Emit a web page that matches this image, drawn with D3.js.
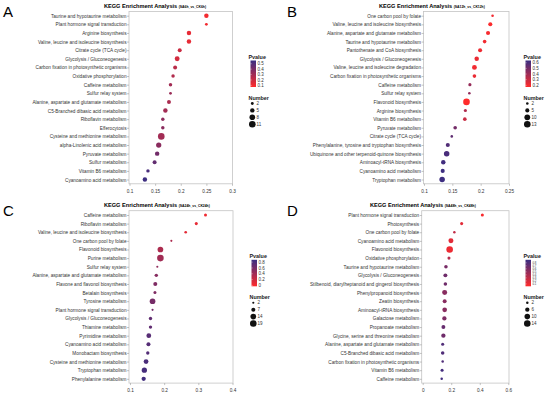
<!DOCTYPE html>
<html>
<head>
<meta charset="utf-8">
<script src="https://cdn.jsdelivr.net/npm/d3@7"></script>
<style>
  body { margin: 0; background: #fff; }
  svg { font-family: "Liberation Sans", Arial, sans-serif; }
</style>
</head>
<body>
<svg id="chart" width="550" height="394"></svg>
<script>
// Panel A: SA6h_vs_CK6h
const namesA = ["Taurine and hypotaurine metabolism", "Plant hormone signal transduction", "Arginine biosynthesis",
  "Valine, leucine and isoleucine biosynthesis", "Citrate cycle (TCA cycle)", "Glycolysis / Gluconeogenesis",
  "Carbon fixation in photosynthetic organisms", "Oxidative phosphorylation", "Caffeine metabolism", "Sulfur relay system",
  "Alanine, aspartate and glutamate metabolism", "C5-Branched dibasic acid metabolism", "Riboflavin metabolism",
  "Efferocytosis", "Cysteine and methionine metabolism", "alpha-Linolenic acid metabolism", "Pyruvate metabolism",
  "Sulfur metabolism", "Vitamin B6 metabolism", "Cyanoamino acid metabolism"];
const richA = [0.25, 0.25, 0.216, 0.216, 0.198, 0.193, 0.189, 0.185, 0.18, 0.18, 0.177, 0.17, 0.165, 0.165, 0.162, 0.157, 0.154, 0.149, 0.136, 0.13];
const numA = [5, 2, 5, 5, 4, 6, 4, 3, 3, 2, 4, 5, 3, 3, 11, 7, 5, 4, 3, 5];
const pA = [0.1, 0.1, 0.13, 0.13, 0.2, 0.18, 0.24, 0.26, 0.3, 0.32, 0.28, 0.3, 0.35, 0.36, 0.3, 0.36, 0.42, 0.46, 0.52, 0.55];

// Panel B: SA12h_vs_CK12h
const namesB = ["One carbon pool by folate", "Valine, leucine and isoleucine biosynthesis", "Alanine, aspartate and glutamate metabolism",
  "Taurine and hypotaurine metabolism", "Pantothenate and CoA biosynthesis", "Glycolysis / Gluconeogenesis",
  "Valine, leucine and isoleucine degradation", "Carbon fixation in photosynthetic organisms", "Caffeine metabolism",
  "Sulfur relay system", "Flavonoid biosynthesis", "Arginine biosynthesis", "Vitamin B6 metabolism", "Pyruvate metabolism",
  "Citrate cycle (TCA cycle)", "Phenylalanine, tyrosine and tryptophan biosynthesis", "Ubiquinone and other terpenoid-quinone biosynthesis",
  "Aminoacyl-tRNA biosynthesis", "Cyanoamino acid metabolism", "Tryptophan metabolism"];
const richB = [0.221, 0.217, 0.213, 0.207, 0.199, 0.193, 0.189, 0.189, 0.181, 0.18, 0.175, 0.173, 0.172, 0.155, 0.149, 0.142, 0.14, 0.134, 0.133, 0.132];
const numB = [2, 5, 5, 4, 5, 6, 7, 4, 3, 2, 13, 3, 4, 4, 2, 5, 9, 6, 5, 9];
const pB = [0.2, 0.18, 0.19, 0.2, 0.21, 0.22, 0.2, 0.22, 0.42, 0.43, 0.17, 0.36, 0.3, 0.5, 0.55, 0.58, 0.6, 0.62, 0.63, 0.63];

// Panel C: SA24h_vs_CK24h
const namesC = ["Caffeine metabolism", "Riboflavin metabolism", "Valine, leucine and isoleucine biosynthesis",
  "One carbon pool by folate", "Flavonoid biosynthesis", "Purine metabolism", "Sulfur relay system",
  "Alanine, aspartate and glutamate metabolism", "Flavone and flavonol biosynthesis", "Betalain biosynthesis",
  "Tyrosine metabolism", "Plant hormone signal transduction", "Glycolysis / Gluconeogenesis", "Thiamine metabolism",
  "Pyrimidine metabolism", "Cyanoamino acid metabolism", "Monobactam biosynthesis", "Cysteine and methionine metabolism",
  "Tryptophan metabolism", "Phenylalanine metabolism"];
const richC = [0.321, 0.294, 0.263, 0.221, 0.189, 0.189, 0.18, 0.177, 0.174, 0.173, 0.166, 0.166, 0.16, 0.16, 0.155, 0.154, 0.152, 0.147, 0.142, 0.14];
const numC = [4, 4, 3, 2, 14, 19, 2, 5, 7, 4, 14, 2, 5, 5, 10, 7, 5, 10, 12, 8];
const pC = [0.04, 0.08, 0.1, 0.35, 0.35, 0.4, 0.48, 0.52, 0.56, 0.56, 0.6, 0.62, 0.7, 0.7, 0.74, 0.75, 0.76, 0.8, 0.82, 0.84];

// Panel D: SA48h_vs_CK48h
const namesD = ["Plant hormone signal transduction", "Photosynthesis", "One carbon pool by folate", "Cyanoamino acid metabolism",
  "Flavonoid biosynthesis", "Oxidative phosphorylation", "Taurine and hypotaurine metabolism", "Glycolysis / Gluconeogenesis",
  "Stilbenoid, diarylheptanoid and gingerol biosynthesis", "Phenylpropanoid biosynthesis", "Zeatin biosynthesis",
  "Aminoacyl-tRNA biosynthesis", "Galactose metabolism", "Propanoate metabolism", "Glycine, serine and threonine metabolism",
  "Alanine, aspartate and glutamate metabolism", "C5-Branched dibasic acid metabolism", "Carbon fixation in photosynthetic organisms",
  "Vitamin B6 metabolism", "Caffeine metabolism"];
const richD = [0.418, 0.273, 0.222, 0.198, 0.189, 0.184, 0.163, 0.159, 0.159, 0.154, 0.154, 0.154, 0.152, 0.145, 0.145, 0.14, 0.14, 0.14, 0.136, 0.133];
const numD = [3, 3, 2, 8, 14, 3, 4, 5, 4, 8, 5, 7, 6, 5, 6, 3, 4, 2, 3, 2];
const pD = [0.05, 0.15, 0.3, 0.15, 0.1, 0.35, 0.62, 0.66, 0.66, 0.55, 0.55, 0.55, 0.6, 0.7, 0.66, 0.8, 0.8, 0.8, 0.85, 0.86];

// legend ticks
const pTicksA = [0.5, 0.4, 0.3, 0.2, 0.1], nTicksA = [2, 5, 8, 11];
const pTicksB = [0.6, 0.5, 0.4, 0.3, 0.2], nTicksB = [2, 5, 10, 13];
const pTicksC = [0.8, 0.6, 0.4, 0.2, 0], nTicksC = [2, 7, 14, 19];
const pTicksD = [0.8, 0.7, 0.6, 0.5, 0.4, 0.3, 0.2, 0.1], nTicksD = [2, 6, 10, 14];
const xTicksA = [0.1, 0.15, 0.2, 0.25, 0.3];
const xTicksB = [0.1, 0.15, 0.2, 0.25];
const xTicksC = [0.1, 0.2, 0.3, 0.4];
const xTicksD = [0, 0.2, 0.4, 0.6];

const svg = d3.select("#chart");

function panel(opt) {
  const g = svg.append("g").attr("transform", `translate(${opt.ox},${opt.oy})`);
  const top = 11.4, bottom = 183.8;

  const x = d3.scaleLinear().domain(opt.xDomain).range(opt.xRange);
  const y = d3.scalePoint().domain(opt.names).range([15.7, 179.5]);
  const color = d3.scaleLinear().domain(opt.pDomain).range(["#ff2b2b", "#392d82"]);
  const r = d3.scaleSqrt().domain([0, d3.max(opt.nTicks)]).range([0, 3.3]);

  // panel letter + title
  g.append("text").attr("x", opt.letterX).attr("y", 17).attr("font-size", 15)
    .attr("font-family", "Liberation Sans, Arial").text(opt.letter);
  const t = g.append("text").attr("x", opt.titleX).attr("y", 7.6)
    .attr("font-size", 5.6).attr("font-weight", "bold").text("KEGG Enrichment Analysis ");
  t.append("tspan").attr("font-size", 3.4).text(opt.sub);

  // panel border
  g.append("rect").attr("x", opt.box[0]).attr("y", top)
    .attr("width", opt.box[1] - opt.box[0]).attr("height", bottom - top)
    .attr("fill", "none").attr("stroke", "#c4c4c4").attr("stroke-width", 0.8);

  // axes
  const ax = g.append("g").attr("transform", `translate(0,${bottom})`)
    .call(d3.axisBottom(x).tickValues(opt.xTicks).tickSize(2).tickSizeOuter(0).tickFormat(d3.format("")));
  const ay = g.append("g").attr("transform", `translate(${opt.box[0]},0)`)
    .call(d3.axisLeft(y).tickSize(2).tickSizeOuter(0));
  [ax, ay].forEach(a => {
    a.select(".domain").remove();
    a.selectAll("line").attr("stroke", "#888").attr("stroke-width", 0.5);
    a.selectAll("text").attr("fill", "#333").attr("font-size", 4.7).attr("font-family", "Liberation Sans, Arial");
  });
  ax.selectAll("text").attr("dy", "0.9em");
  ay.selectAll("text").attr("x", -2.5);

  // dots
  g.selectAll("circle.dot").data(opt.names).join("circle")
    .attr("class", "dot")
    .attr("cx", (d, i) => x(opt.rich[i]))
    .attr("cy", d => y(d))
    .attr("r", (d, i) => r(opt.num[i]))
    .attr("fill", (d, i) => color(opt.p[i]));

  // Pvalue legend
  const lx = opt.legX;
  g.append("text").attr("x", lx - 2).attr("y", 59).attr("font-size", 5.4)
    .attr("font-weight", "bold").attr("fill", "#222").text("Pvalue");
  const gradId = "grad" + opt.letter;
  const grad = svg.append("defs").append("linearGradient").attr("id", gradId)
    .attr("x1", 0).attr("y1", 1).attr("x2", 0).attr("y2", 0);
  d3.range(0, 1.01, 0.1).forEach(s => {
    grad.append("stop").attr("offset", s)
      .attr("stop-color", color(opt.pDomain[0] + s * (opt.pDomain[1] - opt.pDomain[0])));
  });
  const barTop = 60.5, barBot = 87;
  g.append("rect").attr("x", lx).attr("y", barTop).attr("width", 5.5).attr("height", barBot - barTop)
    .attr("fill", `url(#${gradId})`);
  const ly = d3.scaleLinear().domain(opt.pDomain).range([barBot, barTop]);
  opt.pTicks.forEach(v => {
    g.append("line").attr("x1", lx).attr("x2", lx + 1.2).attr("y1", ly(v)).attr("y2", ly(v))
      .attr("stroke", "#fff").attr("stroke-width", 0.4);
    g.append("text").attr("x", lx + 7).attr("y", ly(v)).attr("dy", "0.35em")
      .attr("font-size", opt.pFont || 4.5).attr("fill", "#333").text(v);
  });

  // Number legend
  g.append("text").attr("x", lx - 2).attr("y", 100).attr("font-size", 5.4)
    .attr("font-weight", "bold").attr("fill", "#222").text("Number");
  opt.nTicks.forEach((v, i) => {
    const yy = 103.5 + i * 6.9;
    g.append("circle").attr("cx", lx + 1.8).attr("cy", yy).attr("r", r(v)).attr("fill", "#111");
    g.append("text").attr("x", lx + 6).attr("y", yy).attr("dy", "0.35em")
      .attr("font-size", 4.5).attr("fill", "#333").text(v);
  });
}

panel({ ox: 0, oy: 0, letter: "A", letterX: 3, titleX: 104, sub: "(SA6h_vs_CK6h)",
  names: namesA, rich: richA, num: numA, p: pA,
  xDomain: [0.1, 0.3], xRange: [129.5, 232], xTicks: xTicksA, box: [129, 232.5],
  pDomain: [0.07, 0.56], pTicks: pTicksA, nTicks: nTicksA, legX: 250.5 });

panel({ ox: 275, oy: 0, letter: "B", letterX: 12, titleX: 104, sub: "(SA12h_vs_CK12h)",
  names: namesB, rich: richB, num: numB, p: pB,
  xDomain: [0.1, 0.25], xRange: [149, 234], xTicks: xTicksB, box: [148.5, 234],
  pDomain: [0.17, 0.64], pTicks: pTicksB, nTicks: nTicksB, legX: 250.5 });

panel({ ox: 0, oy: 199.3, letter: "C", letterX: 3, titleX: 104, sub: "(SA24h_vs_CK24h)",
  names: namesC, rich: richC, num: numC, p: pC,
  xDomain: [0.1, 0.4], xRange: [130, 232.5], xTicks: xTicksC, box: [129, 233],
  pDomain: [-0.03, 0.88], pTicks: pTicksC, nTicks: nTicksC, legX: 251.5 });

panel({ ox: 275, oy: 199.3, letter: "D", letterX: 12, titleX: 95, sub: "(SA48h_vs_CK48h)",
  names: namesD, rich: richD, num: numD, p: pD,
  xDomain: [0, 0.6], xRange: [147.7, 233.3], xTicks: xTicksD, box: [146.7, 234],
  pDomain: [0.02, 0.9], pTicks: pTicksD, nTicks: nTicksD, legX: 250.5, pFont: 2.8 });
</script>
</body>
</html>
